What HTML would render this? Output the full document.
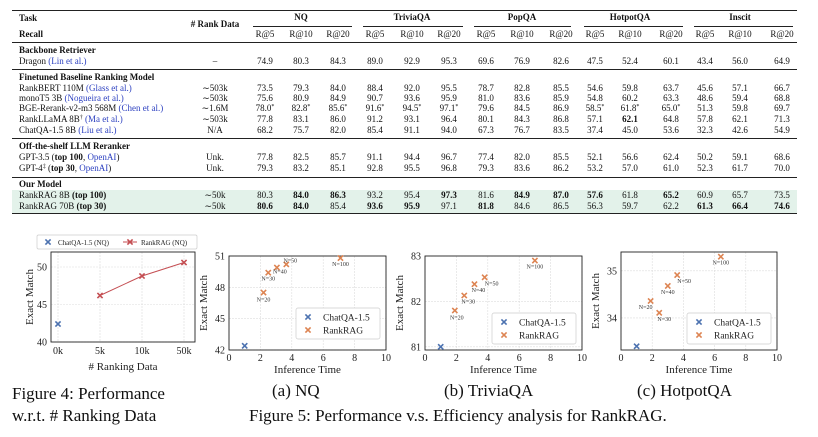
<!DOCTYPE html>
<html><head><meta charset="utf-8">
<style>
body{margin:0;background:#fff;width:818px;height:437px;overflow:hidden;position:relative;font-family:"Liberation Serif",serif;color:#111}
.c{position:absolute;font-size:9px;line-height:10px;white-space:nowrap;transform:translate(-50%,-50%)}
.l{position:absolute;font-size:9px;line-height:10px;white-space:nowrap;transform:translateY(-50%)}
.rule{position:absolute;left:12px;width:785px;background:#222}
.lk{color:#2b3fc0}
sup{font-size:6px;vertical-align:baseline;position:relative;top:-3px;line-height:6px}
.cap{position:absolute;font-size:17px;white-space:nowrap;line-height:20px}
</style></head><body>
<div style="position:absolute;left:12px;top:190px;width:785px;height:23px;background:#e3f2ea"></div>
<div class="rule" style="top:10px;height:1.3px"></div>
<div class="rule" style="top:42px;height:1px"></div>
<div class="rule" style="top:69px;height:1px"></div>
<div class="rule" style="top:138px;height:1px"></div>
<div class="rule" style="top:177px;height:1px"></div>
<div class="rule" style="top:213px;height:1.3px"></div>
<div id="tbl"></div>
<svg id="ch" width="818" height="437" style="position:absolute;left:0;top:0" font-family="Liberation Serif, serif"></svg>
<div class="cap" style="left:12px;top:384px">Figure 4: Performance</div>
<div class="cap" style="left:12px;top:406px">w.r.t. # Ranking Data</div>
<div class="cap" style="left:272px;top:381px">(a) NQ</div>
<div class="cap" style="left:444px;top:381px">(b) TriviaQA</div>
<div class="cap" style="left:637px;top:381px">(c) HotpotQA</div>
<div class="cap" style="left:249px;top:406px">Figure 5: Performance v.s. Efficiency analysis for RankRAG.</div>
<script>
var colX=[265,301,338,375,412,449,486,522,561,595,630,671,705,740,782];
var groups=[["NQ",301,253,352],["TriviaQA",412,363,463],["PopQA",522,474,571],["HotpotQA",630,584,683],["Inscit",740,694,793]];
var rows=[
[61,'Dragon <span class="lk">(Lin et al.)</span>','–',"74.9 80.3 84.3 89.0 92.9 95.3 69.6 76.9 82.6 47.5 52.4 60.1 43.4 56.0 64.9"],
[88,'RankBERT 110M <span class="lk">(Glass et al.)</span>','∼503k',"73.5 79.3 84.0 88.4 92.0 95.5 78.7 82.8 85.5 54.6 59.8 63.7 45.6 57.1 66.7"],
[98,'monoT5 3B <span class="lk">(Nogueira et al.)</span>','∼503k',"75.6 80.9 84.9 90.7 93.6 95.9 81.0 83.6 85.9 54.8 60.2 63.3 48.6 59.4 68.8"],
[108,'BGE-Rerank-v2-m3 568M <span class="lk">(Chen et al.)</span>','∼1.6M',"78.0* 82.8* 85.6* 91.6* 94.5* 97.1* 79.6 84.5 86.9 58.5* 61.8* 65.0* 51.3 59.8 69.7"],
[119,'RankLLaMA 8B<sup>†</sup> <span class="lk">(Ma et al.)</span>','∼503k',"77.8 83.1 86.0 91.2 93.1 96.4 80.1 84.3 86.8 57.1 b62.1 64.8 57.8 62.1 71.3"],
[130,'ChatQA-1.5 8B <span class="lk">(Liu et al.)</span>','N/A',"68.2 75.7 82.0 85.4 91.1 94.0 67.3 76.7 83.5 37.4 45.0 53.6 32.3 42.6 54.9"],
[157,'GPT-3.5 (<b>top 100</b>, <span class="lk">OpenAI</span>)','Unk.',"77.8 82.5 85.7 91.1 94.4 96.7 77.4 82.0 85.5 52.1 56.6 62.4 50.2 59.1 68.6"],
[168,'GPT-4<sup>‡</sup> (<b>top 30</b>, <span class="lk">OpenAI</span>)','Unk.',"79.3 83.2 85.1 92.8 95.5 96.8 79.3 83.6 86.2 53.2 57.0 61.0 52.3 61.7 70.0"],
[195,'RankRAG 8B <b>(top 100)</b>','∼50k',"80.3 b84.0 b86.3 93.2 95.4 b97.3 81.6 b84.9 b87.0 b57.6 61.8 b65.2 60.9 65.7 73.5"],
[206,'RankRAG 70B <b>(top 30)</b>','∼50k',"b80.6 b84.0 85.4 b93.6 b95.9 97.1 b81.8 84.6 86.5 56.3 59.7 62.2 b61.3 b66.4 b74.6"]];
var sections=[[50,"Backbone Retriever"],[77,"Finetuned Baseline Ranking Model"],[146,"Off-the-shelf LLM Reranker"],[184,"Our Model"]];
var T=document.getElementById('tbl');
function cell(cls,x,y,html){var el=document.createElement('div');el.className=cls;el.style.left=x+'px';el.style.top=y+'px';el.innerHTML=html;T.appendChild(el);return el;}
var e;
e=cell('l',19,18,'<b>Task</b>');


e=cell('l',19,34,'<b>Recall</b>');


e=cell('c',215,24,'<b># Rank Data</b>');


groups.forEach(function(g){
 e=cell('c',g[1],17,'<b>'+g[0]+'</b>');
 
 
 var r=document.createElement('div');r.style.cssText='position:absolute;top:26px;height:0.8px;background:#222;left:'+g[2]+'px;width:'+(g[3]-g[2])+'px';T.appendChild(r);
 
 
});
colX.forEach(function(x,i){
 e=cell('c',x,34,['R@5','R@10','R@20'][i%3]);
 
 
});
sections.forEach(function(s){
 e=cell('l',19,s[0],'<b>'+s[1]+'</b>');
 
 
});
rows.forEach(function(r){
 e=cell('l',19,r[0],r[1]);
 
 
 e=cell('c',215,r[0],r[2]);
 
 
 r[3].split(' ').forEach(function(v,i){
  var h=v;var bold=false;if(h[0]=='b'){bold=true;h=h.slice(1);}
  if(h.indexOf('*')>=0)h=h.replace('*','<sup>*</sup>');
  if(bold)h='<b>'+h+'</b>';
  e=cell('c',colX[i],r[0],h);
  
  
 });
});

// ---- charts ----
var f4Cats=["0k","5k","10k","50k"];
var f4Chat=[42.4];
var f4Rank=[null,46.2,48.8,50.6];
var f4YTicks=[40,45,50];
var xTicks=[0,2,4,6,8,10];
var nLabels=["N=20","N=30","N=40","N=50","N=100"];
var nqTime=[2.2,2.5,3.05,3.65,7.1];
var nqEM=[47.5,49.4,49.9,50.2,50.8];
var nqChat=[1.0,42.4];
var nqYTicks=[42,45,48,51];
var tqTime=[1.9,2.5,3.15,3.8,7.0];
var tqEM=[81.8,82.13,82.38,82.53,82.9];
var tqChat=[1.0,81.0];
var tqYTicks=[81,82,83];
var hpTime=[1.9,2.45,3.0,3.6,6.4];
var hpEM=[34.36,34.11,34.68,34.91,35.3];
var hpChat=[1.0,33.4];
var hpYTicks=[34,35];

var NS='http://www.w3.org/2000/svg';var S=document.getElementById('ch');
function mk(t,a,p){var el=document.createElementNS(NS,t);for(var k in a)el.setAttribute(k,a[k]);(p||S).appendChild(el);return el;}
function cross(x,y,c,g){var d=2.6;var p=mk('path',{d:'M'+(x-d)+' '+(y-d)+'L'+(x+d)+' '+(y+d)+'M'+(x-d)+' '+(y+d)+'L'+(x+d)+' '+(y-d),stroke:c,'stroke-width':1.6,fill:'none'},g);return p;}
var BLUE='#4c72b0',ORG='#dd8452',RED='#c44e52';

(function(){
 var L=51,R=195,Tp=252,B=342,y0=40,y1=52;
 var xs=[58,100,142,184];
 function Y(v){return B-(v-y0)/(y1-y0)*(B-Tp);}
 var g=mk('g',{});
 
 
 f4YTicks.forEach(function(t){var l=mk('line',{x1:L,x2:R,y1:Y(t),y2:Y(t),stroke:'#ddd','stroke-width':0.6,'stroke-dasharray':'2,1'},g);
  
  var tx=mk('text',{x:L-4,y:Y(t)+3.5,'font-size':10,'text-anchor':'end',fill:'#222'},g);tx.textContent=t;
  });
 f4Cats.forEach(function(c,i){var l=mk('line',{x1:xs[i],x2:xs[i],y1:Tp,y2:B,stroke:'#ddd','stroke-width':0.6,'stroke-dasharray':'2,1'},g);
  
  var tx=mk('text',{x:xs[i],y:B+12,'font-size':10,'text-anchor':'middle',fill:'#222'},g);tx.textContent=c;
  });
 var fr=mk('rect',{x:L,y:Tp,width:R-L,height:B-Tp,fill:'none',stroke:'#222','stroke-width':0.9},g);
 
 var pts=[];f4Rank.forEach(function(v,i){if(v!=null)pts.push(xs[i]+','+Y(v));});
 var pl=mk('polyline',{points:pts.join(' '),fill:'none',stroke:RED,'stroke-width':1},g);
 
 f4Rank.forEach(function(v,i){if(v!=null){var m=cross(xs[i],Y(v),RED,g);
  }});
 f4Chat.forEach(function(v,i){var m=cross(xs[i],Y(v),BLUE,g);
  });
 var t1=mk('text',{x:123,y:370,'font-size':11,'text-anchor':'middle',fill:'#222'},g);t1.textContent='# Ranking Data';
 
 var t2=mk('text',{x:0,y:0,'font-size':11,'text-anchor':'middle',fill:'#222',transform:'translate(33,'+((Tp+B)/2)+') rotate(-90)'},g);t2.textContent='Exact Match';
 
 var lg=mk('g',{},g);
 
 mk('rect',{x:37,y:235,width:160,height:14,fill:'#fff',stroke:'#ccc','stroke-width':0.7,rx:1.5},lg);
 cross(48,242,BLUE,lg);
 var a=mk('text',{x:58,y:245,'font-size':7,fill:'#222'},lg);a.textContent='ChatQA-1.5 (NQ)';
 
 mk('line',{x1:123,x2:137,y1:242,y2:242,stroke:RED,'stroke-width':1},lg);cross(130,242,RED,lg);
 var b=mk('text',{x:141,y:245,'font-size':7,fill:'#222'},lg);b.textContent='RankRAG (NQ)';
 
})();

function scatter(name,L,R,Tp,B,y0,y1,yt,time,em,chat,lgX,lgY,lblOff){
 var g=mk('g',{});
 
 
 function X(v){return L+v/10*(R-L);}
 function Y(v){return B-(v-y0)/(y1-y0)*(B-Tp);}
 yt.forEach(function(t){var l=mk('line',{x1:L,x2:R,y1:Y(t),y2:Y(t),stroke:'#ddd','stroke-width':0.6,'stroke-dasharray':'2,1'},g);
  
  var tx=mk('text',{x:L-4,y:Y(t)+3.5,'font-size':10,'text-anchor':'end',fill:'#222'},g);tx.textContent=t;
  });
 xTicks.forEach(function(t){var l=mk('line',{x1:X(t),x2:X(t),y1:Tp,y2:B,stroke:'#ddd','stroke-width':0.6,'stroke-dasharray':'2,1'},g);
  
  var tx=mk('text',{x:X(t),y:B+11,'font-size':10,'text-anchor':'middle',fill:'#222'},g);tx.textContent=t;
  });
 var fr=mk('rect',{x:L,y:Tp,width:R-L,height:B-Tp,fill:'none',stroke:'#222','stroke-width':0.9},g);
 
 var t1=mk('text',{x:(L+R)/2,y:B+23,'font-size':11,'text-anchor':'middle',fill:'#222'},g);t1.textContent='Inference Time';
 
 var t2=mk('text',{x:0,y:0,'font-size':11,'text-anchor':'middle',fill:'#222',transform:'translate('+(L-22)+','+((Tp+B)/2)+') rotate(-90)'},g);t2.textContent='Exact Match';
 
 var lg=mk('g',{},g);
 
 mk('rect',{x:lgX,y:lgY,width:84,height:31,fill:'#fff',stroke:'#ccc','stroke-width':0.7,rx:2},lg);
 cross(lgX+12,lgY+9,BLUE,lg);cross(lgX+12,lgY+22,ORG,lg);
 var a=mk('text',{x:lgX+27,y:lgY+12.5,'font-size':9.5,fill:'#222'},lg);a.textContent='ChatQA-1.5';
 
 var b=mk('text',{x:lgX+27,y:lgY+25.5,'font-size':9.5,fill:'#222'},lg);b.textContent='RankRAG';
 
 var c=cross(X(chat[0]),Y(chat[1]),BLUE,g);
 
 time.forEach(function(t,i){var m=cross(X(t),Y(em[i]),ORG,g);
  
  var o=lblOff[i];
  var tx=mk('text',{x:X(t)+o[0],y:Y(em[i])+o[1],'font-size':6,'text-anchor':'middle',fill:'#333'},g);tx.textContent=nLabels[i];
  });
}
scatter('nq-chart',229,386,256,350,42,51,nqYTicks,nqTime,nqEM,nqChat,296,308,[[0,9],[0,8],[3,6],[4,-2],[0,8]]);
scatter('triviaqa-chart',425,582,256,350,80.93,83,tqYTicks,tqTime,tqEM,tqChat,492,313,[[2,9],[4,8],[4,8],[7,8],[0,8]]);
scatter('hotpotqa-chart',621,777,252,350,33.32,35.4,hpYTicks,hpTime,hpEM,hpChat,687,313,[[-5,8],[5,8],[0,8],[7,8],[0,8]]);
</script>
</body></html>
